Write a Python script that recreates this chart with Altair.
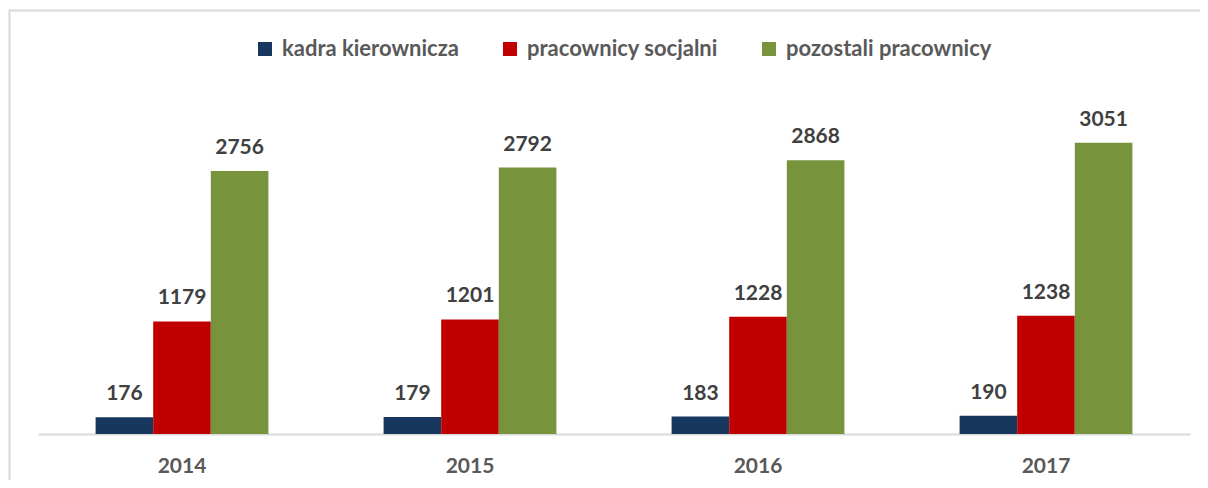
import altair as alt
import pandas as pd

years = ["2014", "2015", "2016", "2017"]
series = ["kadra kierownicza", "pracownicy socjalni", "pozostali pracownicy"]
kadra = [176, 179, 183, 190]
socjalni = [1179, 1201, 1228, 1238]
pozostali = [2756, 2792, 2868, 3051]
colors = ["#17375E", "#C00000", "#77933C"]

rows = []
for i, y in enumerate(years):
    for s, vals in zip(series, [kadra, socjalni, pozostali]):
        rows.append({"year": y, "series": s, "value": vals[i]})
df = pd.DataFrame(rows)

FONT = "Lato"

base = alt.Chart(df).encode(
    x=alt.X(
        "year:N",
        sort=years,
        scale=alt.Scale(paddingInner=0.4, paddingOuter=0.2),
        axis=alt.Axis(
            title=None, labelAngle=0, ticks=False, domainColor="#d9d9d9",
            domainWidth=2, labelFont=FONT, labelFontSize=21, labelFontWeight="bold",
            labelColor="#595959", labelPadding=21,
        ),
    ),
    xOffset=alt.XOffset("series:N", sort=series, scale=alt.Scale(paddingInner=0, paddingOuter=0)),
    y=alt.Y("value:Q", scale=alt.Scale(domain=[0, 3500]), axis=None),
)

bars = base.mark_bar().encode(
    color=alt.Color(
        "series:N",
        sort=series,
        scale=alt.Scale(domain=series, range=colors),
        legend=alt.Legend(
            title=None, orient="none", legendX=216, legendY=-62, direction="horizontal",
            columns=3, symbolType="square", symbolSize=196, symbolStrokeWidth=0,
            labelFont=FONT, labelFontSize=22, labelFontWeight="bold", labelLimit=400,
            labelColor="#595959", columnPadding=40, labelOffset=6,
        ),
    )
)

labels = base.mark_text(
    font=FONT, fontSize=21, fontWeight="bold", color="#404040",
    baseline="alphabetic", dy=-17,
).encode(text=alt.Text("value:Q"))

frame_df = pd.DataFrame({"k": [0]})
frame_top = alt.Chart(frame_df).mark_rule(stroke="#d9d9d9", strokeWidth=2).encode(
    x=alt.value(-29), x2=alt.value(1400), y=alt.value(-89.5)
)
frame_left = alt.Chart(frame_df).mark_rule(stroke="#d9d9d9", strokeWidth=2).encode(
    x=alt.value(-28.5), y=alt.value(-90.5), y2=alt.value(700)
)

chart = alt.layer(frame_top, frame_left, bars, labels).properties(
    width=1152, height=334,
    autosize=alt.AutoSizeParams(type="none"),
    padding={"left": 30, "top": 92, "right": 10, "bottom": 46},
).configure_view(strokeWidth=0)

chart.save("out.html", embed_options={"renderer": "svg", "actions": False})
